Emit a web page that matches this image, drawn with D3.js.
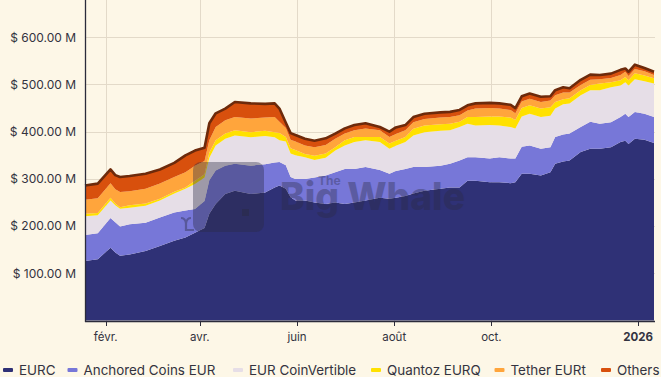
<!DOCTYPE html>
<html><head><meta charset="utf-8">
<script src="https://cdn.jsdelivr.net/npm/d3@7"></script>
<style>
html,body{margin:0;padding:0;background:#fdf7e7;}
svg{display:block;font-family:Inter,"Noto Sans",sans-serif;}
</style></head><body>
<svg id="chart" width="661" height="377"></svg>
<script>
// ---------- data ----------
const dates = ["2025-01-19","2025-01-27","2025-02-04","2025-02-07","2025-02-10","2025-02-16","2025-02-26","2025-03-07","2025-03-16","2025-03-23",
"2025-03-29","2025-04-04","2025-04-07","2025-04-11","2025-04-17","2025-04-23","2025-05-03","2025-05-12","2025-05-18","2025-05-21",
"2025-05-25","2025-05-28","2025-05-31","2025-06-06","2025-06-12","2025-06-19","2025-06-25","2025-07-01","2025-07-07","2025-07-14",
"2025-07-23","2025-07-29","2025-08-02","2025-08-08","2025-08-13","2025-08-20","2025-08-30","2025-09-05","2025-09-11","2025-09-16",
"2025-09-21","2025-09-30","2025-10-06","2025-10-13","2025-10-16","2025-10-20","2025-10-25","2025-11-01","2025-11-07","2025-11-10",
"2025-11-15","2025-11-19","2025-11-26","2025-12-02","2025-12-08","2025-12-15","2025-12-21","2025-12-24","2025-12-26","2025-12-30",
"2026-01-05","2026-01-11"];
const eurc = [126,130,154,144,137,140,147,158,169,176, 186,196,226,247,268,275,268,271,282,286, 279,261,254,254,250,247,250,247,250,254,
 260,258,260,264,269,275,279,282,282,296, 296,293,293,291,293,311,311,307,314,332, 337,339,357,364,364,367,378,381,374,385, 383,376];
const anchored = [55,55,63,64,62,64,60,60,60,57, 50,57,71,71,60,57,60,60,53,50, 50,43,46,46,53,60,64,74,71,71,
 59,53,57,57,56,50,49,50,57,50, 50,50,53,52,50,57,60,57,53,57, 57,57,53,57,53,53,53,57,57,57, 55,55];
const coinvertible = [40,38,37,36,38,35,36,36,40,46, 53,50,48,53,57,60,60,60,53,46, 50,50,50,46,37,38,46,50,57,57,
 59,53,53,57,67,74,74,71,71,71, 67,71,67,67,64,64,67,67,67,60, 64,64,67,67,71,74,67,67,67,69, 69,71];
const quantoz = [5,5,6,4,3,5,5,4,4,3, 7,7,11,11,11,11,11,11,11,15, 10,11,11,7,9,9,7,11,11,7,
 11,11,11,11,14,14,14,14,11,14, 18,18,19,20,18,18,18,18,18,14, 11,11,11,11,14,11,11,11,11,13, 12,11];
const tether = [30,31,31,30,32,30,31,32,31,32, 32,28,26,28,28,28,29,28,32,24, 19,18,18,18,18,18,18,14,14,18,
 14,14,14,14,14,14,14,14,14,14, 18,18,17,16,14,14,14,14,14,14, 14,12,11,11,9,9,11,11,9,9, 9,7];
const others = [30,31,29,30,32,32,32,30,30,36, 32,28,36,29,25,32,32,29,29,28, 11,14,14,14,14,14,11,11,11,11,
 7,11,14,11,11,11,11,11,11,11, 11,11,11,11,11,11,11,11,9,11, 11,9,11,11,9,9,11,7,9,9, 7,7];

const seriesNames = ["EURC","Anchored Coins EUR","EUR CoinVertible","Quantoz EURQ","Tether EURt","Others"];
const seriesColors = ["#2f3176","#7777d8","#e6dee7","#ffe100","#ffa53c","#d8500d"];
const yTicks = [100,200,300,400,500,600];
const xTickDates = ["2025-02-01","2025-04-01","2025-06-01","2025-08-01","2025-10-01","2026-01-01"];
const xTickLabels = ["févr.","avr.","juin","août","oct.","2026"];

// ---------- build ----------
const parse = d3.timeParse("%Y-%m-%d");
const cols = [eurc, anchored, coinvertible, quantoz, tether, others];
const rows = dates.map((d,i)=>{
  const r = {date: parse(d)};
  seriesNames.forEach((k,j)=> r[k] = cols[j][i]);
  return r;
});

const svg = d3.select("#chart");
svg.append("rect").attr("width",661).attr("height",377).attr("fill","#fdf7e7");

const left = 85, right = 655, bottom = 321;
const x = d3.scaleTime().domain([parse("2025-01-19"), parse("2026-01-11")]).range([left, 654]);
const y = d3.scaleLinear().domain([0,600]).range([320.5, 37.3]);

// grid
const grid = svg.append("g");
grid.selectAll("line.h").data(yTicks).join("line")
  .attr("x1",left).attr("x2",right)
  .attr("y1",d=>Math.round(y(d))+0.5).attr("y2",d=>Math.round(y(d))+0.5)
  .attr("stroke","#e3dac9").attr("stroke-width",1);
grid.selectAll("line.v").data(xTickDates).join("line")
  .attr("x1",d=>Math.round(x(parse(d)))+0.5).attr("x2",d=>Math.round(x(parse(d)))+0.5)
  .attr("y1",0).attr("y2",bottom)
  .attr("stroke","#e3dac9").attr("stroke-width",1);

// stack
const stack = d3.stack().keys(seriesNames)(rows);
const area = d3.area().x(d=>x(d.data.date)).y0(d=>y(d[0])).y1(d=>y(d[1]));
svg.append("g").selectAll("path").data(stack).join("path")
  .attr("d",area).attr("fill",(d,i)=>seriesColors[i]);
const topLine = d3.line().x(d=>x(d.data.date)).y(d=>y(d[1]));
svg.append("path").datum(stack[stack.length-1]).attr("d",topLine)
  .attr("fill","none").attr("stroke","#6d2a0b").attr("stroke-width",2.6).attr("stroke-linejoin","round");

// watermark
const wm = svg.append("g").attr("pointer-events","none");
wm.append("rect").attr("x",193).attr("y",162).attr("width",71).attr("height",70).attr("rx",8)
  .attr("fill","#2a2a42").attr("opacity",0.38);
wm.append("rect").attr("x",242).attr("y",209).attr("width",7).attr("height",7)
  .attr("fill","#2a2a42").attr("opacity",0.45);
wm.append("path").attr("d","M181,218 q4,0 5,5 q1,-5 5,-5 M186,223 v7 h8")
  .attr("fill","none").attr("stroke","#2a2a42").attr("stroke-width",2.2).attr("opacity",0.4);
wm.append("text").attr("x",318).attr("y",185).attr("font-size",12).attr("font-weight",700)
  .attr("fill","#2a2a42").attr("opacity",0.35).text("The");
wm.append("text").attr("x",280).attr("y",210).attr("font-size",38).attr("font-weight",800)
  .attr("textLength",185).attr("lengthAdjust","spacingAndGlyphs")
  .attr("fill","#2a2a42").attr("opacity",0.36).text("Big Whale");

// axes
svg.append("line").attr("x1",left+0.5).attr("x2",left+0.5).attr("y1",0).attr("y2",bottom+1)
  .attr("stroke","#2b2b3b").attr("stroke-width",1.3);
svg.append("line").attr("x1",left).attr("x2",right).attr("y1",bottom+0.5).attr("y2",bottom+0.5)
  .attr("stroke","#2b2b3b").attr("stroke-width",1.5);

const xt = svg.append("g");
xt.selectAll("line").data(xTickDates).join("line")
  .attr("x1",d=>Math.round(x(parse(d)))+0.5).attr("x2",d=>Math.round(x(parse(d)))+0.5)
  .attr("y1",bottom).attr("y2",bottom+5).attr("stroke","#2b2b3b").attr("stroke-width",1);
xt.selectAll("text").data(xTickDates).join("text")
  .attr("x",d=>x(parse(d))).attr("y",341).attr("text-anchor","middle")
  .attr("font-size",11.5).attr("fill","#333340")
  .attr("font-weight",(d,i)=>i===xTickDates.length-1?700:400)
  .text((d,i)=>xTickLabels[i]);

const fmt = d3.format(".2f");
svg.append("g").selectAll("text").data(yTicks).join("text")
  .attr("x",76).attr("y",d=>y(d)).attr("dy","0.35em").attr("text-anchor","end")
  .attr("font-size",12).attr("fill","#333340")
  .text(d=>"$ "+fmt(d)+" M");

// legend
const legX = [3,67.5,233,371,494.5,601];
const lg = svg.append("g");
seriesNames.forEach((n,i)=>{
  lg.append("rect").attr("x",legX[i]).attr("y",368).attr("width",10).attr("height",4).attr("rx",1)
    .attr("fill",seriesColors[i]);
  lg.append("text").attr("x",legX[i]+16).attr("y",370).attr("dy","0.35em")
    .attr("font-size",13.4).attr("fill","#333340").text(n);
});
</script></body></html>
